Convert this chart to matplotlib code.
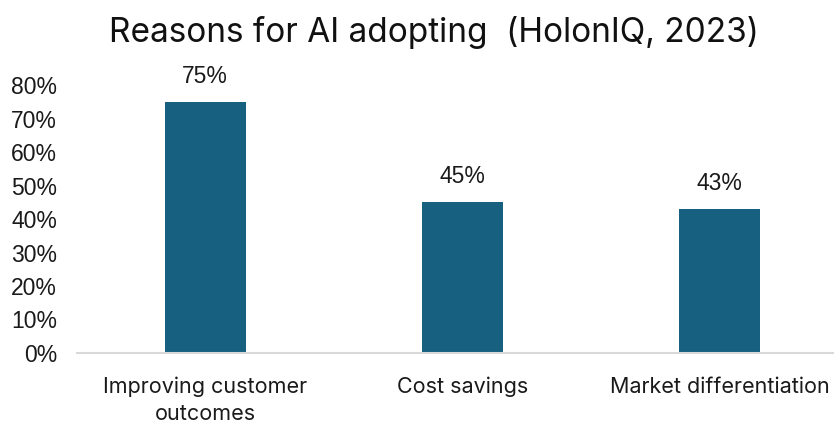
import matplotlib.pyplot as plt
from matplotlib.ticker import FuncFormatter, MultipleLocator

# Survey shares
categories = ['Improving customer\noutcomes', 'Cost savings', 'Market differentiation']
shares = [0.75, 0.45, 0.43]
value_labels = ['75%', '45%', '43%']

bar_color = '#17607F'

fig = plt.figure(figsize=(8.37, 4.23), dpi=100)
ax = fig.add_axes([0.0914, 0.1655, 0.9036, 0.6335])

x = range(len(categories))
ax.bar(x, shares, width=0.315, color=bar_color, zorder=2)

for xi, v, lab in zip(x, shares, value_labels):
    ax.text(xi, v + 0.042, lab, ha='center', va='bottom',
            fontsize=16.5, family='Liberation Sans', color='#1a1a1a')

ax.set_xlim(-0.5, 2.44)
ax.set_ylim(0, 0.8)
ax.yaxis.set_major_locator(MultipleLocator(0.1))
ax.yaxis.set_major_formatter(FuncFormatter(lambda v, pos: '%d%%' % round(v * 100)))

ax.set_xticks(list(x))
ax.set_xticklabels(categories, fontsize=15.5, family='Inter', color='#1a1a1a',
                   linespacing=1.45)

ax.tick_params(axis='both', length=0)
ax.tick_params(axis='x', pad=17)
ax.tick_params(axis='y', pad=14, labelsize=16.5, labelcolor='#1a1a1a',
               labelfontfamily='Liberation Sans')

for side in ['top', 'right', 'left']:
    ax.spines[side].set_visible(False)
ax.spines['bottom'].set_color('#D9D9D9')
ax.spines['bottom'].set_linewidth(1.5)
ax.spines['bottom'].set_zorder(3)

fig.text(0.519, 0.922, 'Reasons for AI adopting  (HolonIQ, 2023)',
         ha='center', va='center', fontsize=24, family='Inter', color='#111111')

fig.savefig('out.png', dpi=100, facecolor='white')
